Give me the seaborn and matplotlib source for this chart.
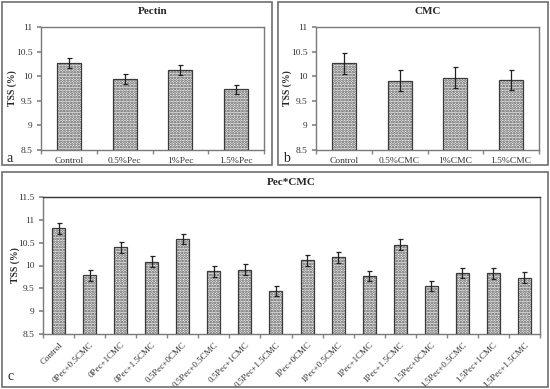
import matplotlib
matplotlib.use("Agg")
import matplotlib.pyplot as plt
import seaborn as sns
import pandas as pd
import numpy as np
from matplotlib.patches import Rectangle

# ---------------- data ----------------
pectin_labels = ["Control", "0.5%Pec", "1%Pec", "1.5%Pec"]
pectin_mean = [10.26, 9.94, 10.12, 9.73]
pectin_err = [0.10, 0.10, 0.10, 0.09]

cmc_labels = ["Control", "0.5%CMC", "1%CMC", "1.5%CMC"]
cmc_mean = [10.26, 9.91, 9.97, 9.92]
cmc_err = [0.21, 0.21, 0.21, 0.21]

combo_labels = ["Control", "0Pec+0.5CMC", "0Pec+1CMC", "0Pec+1.5CMC",
                "0.5Pec+0CMC", "0.5Pec+0.5CMC", "0.5Pec+1CMC", "0.5Pec+1.5CMC",
                "1Pec+0CMC", "1Pec+0.5CMC", "1Pec+1CMC", "1Pec+1.5CMC",
                "1.5Pec+0CMC", "1.5Pec+0.5CMC", "1.5Pec+1CMC", "1.5Pec+1.5CMC"]
combo_mean = [10.82, 9.79, 10.40, 10.08, 10.58, 9.87, 9.91, 9.44,
              10.12, 10.18, 9.77, 10.45, 9.55, 9.83, 9.83, 9.73]
combo_err = [0.12, 0.12, 0.12, 0.12, 0.11, 0.12, 0.12, 0.11,
             0.12, 0.12, 0.12, 0.12, 0.11, 0.11, 0.12, 0.12]

sns.set_theme(style="white")
plt.rcParams["font.family"] = ["Liberation Serif", "DejaVu Serif"]
plt.rcParams["hatch.linewidth"] = 1.3

W, H = 550, 389
fig = plt.figure(figsize=(W / 100, H / 100), dpi=100)


def px_axes(x0, y0, x1, y1):
    return fig.add_axes([x0 / W, 1 - y1 / H, (x1 - x0) / W, (y1 - y0) / H])


def panel_box(x0, y0, x1, y1):
    fig.patches.append(Rectangle((x0 / W, 1 - y1 / H), (x1 - x0) / W, (y1 - y0) / H,
                                 transform=fig.transFigure, fill=False,
                                 edgecolor="#6e6e6e", linewidth=1.2))


def draw(ax, labels, means, errs, title, ylim, yticks, rotate=False, width=0.43,
         label_x=-0.1):
    df = pd.DataFrame({"cat": labels, "val": means})
    sns.barplot(data=df, x="cat", y="val", ax=ax, errorbar=None, width=width,
                color="#f0f0f0", order=labels)
    for p in list(ax.patches):
        p.set_hatch("......")
        p.set_edgecolor("#555555")
        p.set_linewidth(0)
        ax.add_patch(Rectangle(p.get_xy(), p.get_width(), p.get_height(),
                               fill=False, edgecolor="#3a3a3a", linewidth=0.9, zorder=3))
    xs = [p.get_x() + p.get_width() / 2 for p in ax.patches[:len(labels)]]
    ax.errorbar(xs, means, yerr=errs, fmt="none", ecolor="#222222",
                elinewidth=0.9, capsize=1.8, capthick=0.9, zorder=4)
    ax.set_ylim(*ylim)
    ax.set_yticks(yticks)
    ax.set_yticklabels([("%g" % t) for t in yticks], fontsize=6.8, color="#333333")
    ax.set_xlim(-0.5, len(labels) - 0.5)
    ax.set_xticks(range(len(labels)))
    if rotate:
        ax.set_xticklabels(labels, fontsize=6.5, rotation=45, ha="right",
                           rotation_mode="anchor", color="#333333")
    else:
        ax.set_xticklabels(labels, fontsize=6.8, color="#333333")
    ax.tick_params(axis="x", length=0, pad=5)
    ax.set_xticks(np.arange(-0.5, len(labels), 1.0), minor=True)
    ax.tick_params(axis="x", which="minor", length=3, direction="out",
                   color="#888888", bottom=True)
    ax.tick_params(axis="y", length=3, direction="out", color="#888888",
                   left=True, pad=3)
    ax.set_xlabel("")
    ax.set_ylabel("TSS (%)", fontsize=7, fontweight="bold")
    ax.yaxis.set_label_coords(label_x, 0.5)
    for s in ax.spines.values():
        s.set_visible(True)
        s.set_color("#7a7a7a")
        s.set_linewidth(1.0)
    ax.set_title(title, fontsize=8, fontweight="bold", pad=9)


panel_box(2, 2, 272, 165)
panel_box(278, 2, 548, 165)
panel_box(2, 172, 548, 387)

ax1 = px_axes(41, 27, 264, 150)
draw(ax1, pectin_labels, pectin_mean, pectin_err, "Pectin", (8.5, 11),
     [8.5, 9, 9.5, 10, 10.5, 11], label_x=-0.108)

ax2 = px_axes(316, 27, 539, 150)
draw(ax2, cmc_labels, cmc_mean, cmc_err, "CMC", (8.5, 11),
     [8.5, 9, 9.5, 10, 10.5, 11], label_x=-0.108)

ax3 = px_axes(43, 197, 540, 334)
draw(ax3, combo_labels, combo_mean, combo_err, "Pec*CMC", (8.5, 11.5),
     [8.5, 9, 9.5, 10, 10.5, 11, 11.5], rotate=True, width=0.42, label_x=-0.046)
ax3.spines["top"].set_color("#333333")

fig.text(6 / W, 1 - 159 / H, "a", fontsize=10, va="center", ha="left")
fig.text(283 / W, 1 - 159 / H, "b", fontsize=10, va="center", ha="left")
fig.text(8 / W, 1 - 377 / H, "c", fontsize=10, va="center", ha="left")

fig.savefig("out.png", dpi=100)
